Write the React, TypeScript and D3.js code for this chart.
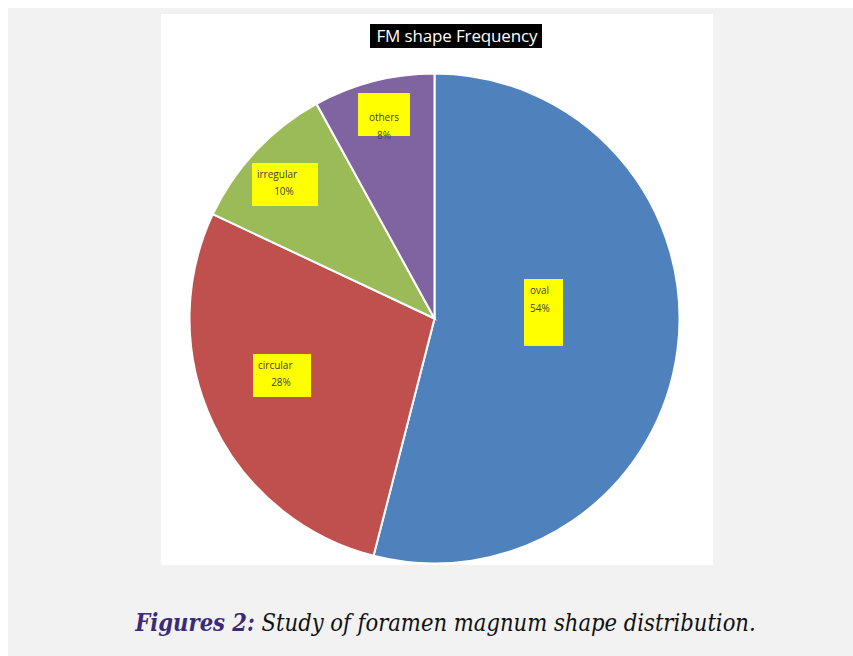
import React, { useEffect, useRef } from 'react';
import * as d3 from 'd3';

const categories = ['oval', 'circular', 'irregular', 'others'];
const values = [54, 28, 10, 8];
const colors = ['#4f81bd', '#c0504d', '#9bbb59', '#8064a2'];
// label boxes (in chart coords) per slice
const labelBoxes = [
  { x: 524, y: 279, w: 39, h: 67, align: 'start' },
  { x: 253, y: 354, w: 58, h: 43, align: 'mixed' },
  { x: 252, y: 163, w: 66, h: 43, align: 'mixed' },
  { x: 358, y: 93, w: 52, h: 43, align: 'middle' },
];

export default function App() {
  const svgRef = useRef<SVGSVGElement>(null);

  useEffect(() => {
    const svg = d3.select(svgRef.current);
    svg.selectAll('*').remove();
    const width = 853;
    const height = 656;

    svg.append('rect').attr('width', width).attr('height', height).attr('fill', '#ffffff');
    svg.append('rect').attr('x', 8).attr('y', 8).attr('width', width - 8).attr('height', height - 8).attr('fill', '#f2f2f2');
    svg.append('rect').attr('x', 161).attr('y', 14).attr('width', 552).attr('height', 551).attr('fill', '#ffffff');

    // title
    svg.append('rect').attr('x', 370).attr('y', 24).attr('width', 172).attr('height', 24).attr('fill', '#000');
    svg.append('text')
      .attr('x', 457).attr('y', 42)
      .attr('text-anchor', 'middle')
      .attr('fill', '#fff')
      .attr('font-family', 'Open Sans, sans-serif')
      .attr('font-size', 17)
      .attr('textLength', 161)
      .text('FM shape Frequency');

    const cx = 434.5;
    const cy = 318.5;
    const r = 245;

    const pie = d3.pie<number>().sort(null).value(d => d);
    const arcs = pie(values);
    const arc = d3.arc<d3.PieArcDatum<number>>().innerRadius(0).outerRadius(r);

    const g = svg.append('g').attr('transform', `translate(${cx},${cy})`);
    g.selectAll('path')
      .data(arcs)
      .join('path')
      .attr('d', arc)
      .attr('fill', (d, i) => colors[i])
      .attr('stroke', '#fff')
      .attr('stroke-width', 2);

    const font = 'Open Sans, sans-serif';
    labelBoxes.forEach((b, i) => {
      svg.append('rect')
        .attr('x', b.x).attr('y', b.y).attr('width', b.w).attr('height', b.h)
        .attr('fill', '#ffff00');
      const t1 = svg.append('text')
        .attr('font-family', font).attr('font-size', 10).attr('fill', '#404040');
      const t2 = svg.append('text')
        .attr('font-family', font).attr('font-size', 10).attr('fill', '#404040');
      const pct = `${values[i]}%`;
      if (b.align === 'start') {
        t1.attr('x', b.x + 6).attr('y', b.y + 15).text(categories[i]);
        t2.attr('x', b.x + 6).attr('y', b.y + 33).text(pct);
      } else if (b.align === 'middle') {
        t1.attr('x', b.x + b.w / 2).attr('y', b.y + 28).attr('text-anchor', 'middle').text(categories[i]);
        t2.attr('x', b.x + b.w / 2).attr('y', b.y + 46).attr('text-anchor', 'middle').text(pct);
      } else {
        t1.attr('x', b.x + 5).attr('y', b.y + 15).text(categories[i]);
        t2.attr('x', b.x + b.w / 2 - 1).attr('y', b.y + 32).attr('text-anchor', 'middle').text(pct);
      }
    });

    // caption
    const cap = svg.append('text')
      .attr('x', 445.5).attr('y', 631)
      .attr('text-anchor', 'middle')
      .attr('font-family', 'DejaVu Serif Condensed, Liberation Serif, serif')
      .attr('font-style', 'italic')
      .attr('font-size', 23.5);
    cap.append('tspan').attr('font-weight', 'bold').attr('fill', '#3b2a78').text('Figures 2:');
    cap.append('tspan').attr('fill', '#111').text(' Study of foramen magnum shape distribution.');
  }, []);

  return (
    <svg
      ref={svgRef}
      width={853}
      height={656}
      style={{ position: 'absolute', left: 0, top: 0 }}
    />
  );
}
